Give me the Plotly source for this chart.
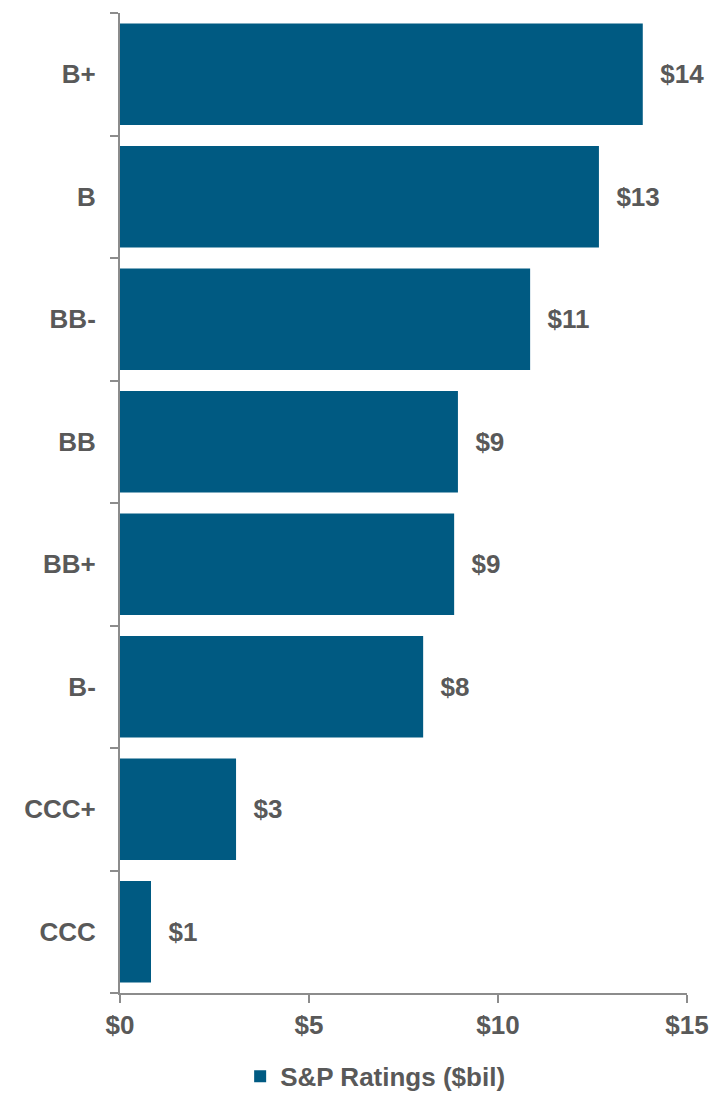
import plotly.graph_objects as go

ratings = ["B+", "B", "BB-", "BB", "BB+", "B-", "CCC+", "CCC"]
amounts = [13.83, 12.67, 10.85, 8.94, 8.84, 8.02, 3.07, 0.82]
x_ticks = [0, 5, 10, 15]
x_tick_labels = ["$0", "$5", "$10", "$15"]

BAR = "#005a82"
GREY_TEXT = "#595959"
AXIS = "#8c8c8c"
FONT = "Liberation Sans, Arial, sans-serif"
SIZE = 26

fig = go.Figure()
fig.add_trace(go.Bar(
    x=amounts,
    y=ratings,
    orientation="h",
    name="<b>S&P Ratings ($bil)</b>",
    marker=dict(color=BAR, line=dict(width=0)),
    text=[f"\u00a0\u00a0${v:.0f}" for v in amounts],
    texttemplate="<b>%{text}</b>",
    textposition="outside",
    cliponaxis=False,
    textfont=dict(size=SIZE, color=GREY_TEXT, family=FONT),
))

fig.update_layout(
    width=713,
    height=1093,
    margin=dict(l=120, r=26, t=13, b=100, autoexpand=False),
    plot_bgcolor="white",
    paper_bgcolor="white",
    bargap=0.17,
    font=dict(family=FONT, size=SIZE, color=GREY_TEXT),
    showlegend=True,
    legend=dict(
        orientation="h",
        x=0.45, xanchor="center",
        y=-0.085, yanchor="middle",
        itemwidth=30,
        font=dict(size=SIZE, color=GREY_TEXT, family=FONT),
    ),
)

fig.update_xaxes(
    range=[0, 15],
    tickvals=x_ticks,
    ticktext=[f"<b>{t}</b>" for t in x_tick_labels],
    showgrid=False,
    zeroline=False,
    showline=True,
    linecolor=AXIS,
    linewidth=2,
    ticks="outside",
    ticklen=8,
    tickwidth=2,
    tickcolor=AXIS,
    ticklabelstandoff=0,
    automargin=False,
    tickfont=dict(size=SIZE, color=GREY_TEXT, family=FONT),
)

fig.update_yaxes(
    autorange="reversed",
    tickvals=ratings,
    ticktext=[f"<b>{r}</b>" for r in ratings],
    tickson="boundaries",
    showgrid=False,
    showline=True,
    linecolor=AXIS,
    linewidth=2,
    ticks="outside",
    ticklen=8,
    tickwidth=2,
    tickcolor=AXIS,
    ticklabelstandoff=17,
    automargin=False,
    tickfont=dict(size=SIZE, color=GREY_TEXT, family=FONT),
)

# drop the default page margin so the figure fills the window exactly
fig.write_html(
    "out.html",
    config={"displayModeBar": False},
    post_script="document.body.style.margin='0';",
)
